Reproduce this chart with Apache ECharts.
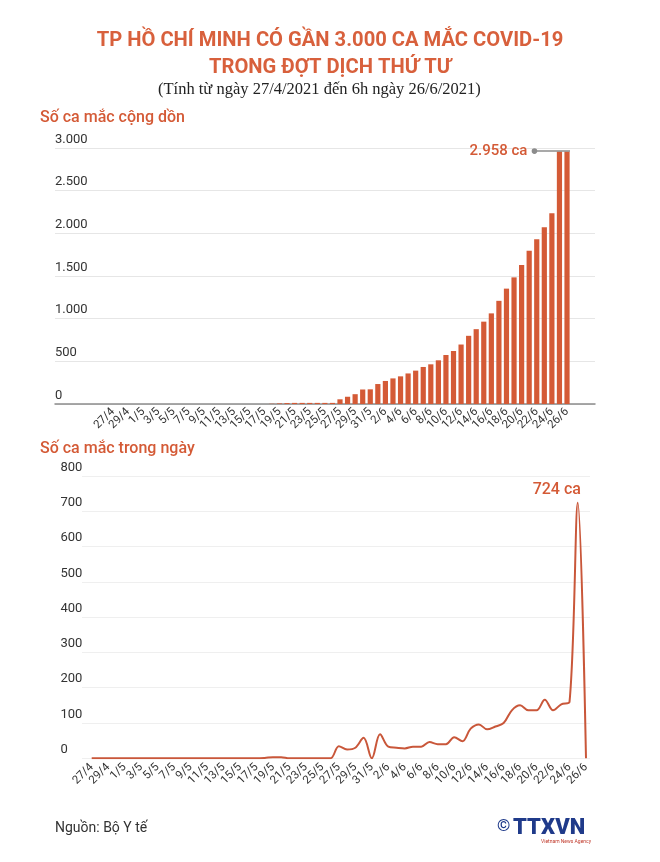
<!DOCTYPE html>
<html><head><meta charset="utf-8">
<script src="https://cdn.jsdelivr.net/npm/echarts@6/dist/echarts.min.js"></script>
<style>html,body{margin:0;padding:0;background:#fff}#c{width:660px;height:862px}</style>
</head><body><div id="c"></div>
<script>
const categories = ['27/4','28/4','29/4','30/4',
 '1/5','2/5','3/5','4/5','5/5','6/5','7/5','8/5','9/5','10/5','11/5','12/5','13/5','14/5','15/5','16/5',
 '17/5','18/5','19/5','20/5','21/5','22/5','23/5','24/5','25/5','26/5','27/5','28/5','29/5','30/5','31/5',
 '1/6','2/6','3/6','4/6','5/6','6/6','7/6','8/6','9/6','10/6','11/6','12/6','13/6','14/6','15/6','16/6',
 '17/6','18/6','19/6','20/6','21/6','22/6','23/6','24/6','25/6','26/6'];
const cumulative = [0,0,0,0, 0,0,0,0,0,0,0,0,0,0,0,0,0,0,0,0, 0,3,7,11,13,13,13,13,13,13,55,85,115,170,172,
 234,270,300,324,358,391,434,465,512,574,621,697,799,877,965,1062, 1209,1352,1484,1629,1797,1930,2070,2234,2958,2958];
const daily = [0,0,0,0, 0,0,0,0,0,0,0,0,0,0,0,0,0,0,0,0, 0,1,3,3,0,0,0,0,0,0,34,25,30,58,0,
 68,33,30,28,33,33,46,40,40,60,48,84,96,82,90,100, 136,150,136,136,166,136,153,160,724,0];
const cumTicks = {min: 0, max: 3000, interval: 500};
const dailyTicks = {min: 0, max: 800, interval: 100};
const titleLines = ['TP HỒ CHÍ MINH CÓ GẦN 3.000 CA MẮC COVID-19', 'TRONG ĐỢT DỊCH THỨ TƯ'];
const subtitle = '(Tính từ ngày 27/4/2021 đến 6h ngày 26/6/2021)';
const cumLabel = '2.958 ca';
const peakLabel = '724 ca';

const ORANGE = '#d45a36';
const TITLE = '#d8603c';
const fmtDot = v => String(v).replace(/\B(?=(\d{3})+(?!\d))/g, '.');

const chart = echarts.init(document.getElementById('c'), null, {renderer: 'canvas'});
const xLabel = {interval: 0, rotate: 45, fontSize: 11.5, color: '#333', fontFamily: 'Roboto', margin: 6,
  showMinLabel: true, showMaxLabel: true, hideOverlap: false,
  formatter: (v, i) => (i % 2 === 0 ? v : '')};
const peakIdx = daily.indexOf(Math.max(...daily));

const option = {
  backgroundColor: '#fff',
  animation: false,
  grid: [
    {left: 55, right: 65, top: 148, bottom: 458},
    {left: 109.2, right: 89.2, top: 148, bottom: 458},
    {left: 82, right: 70, top: 476, bottom: 103.7},
    {left: 91.7, right: 74, top: 476, bottom: 103.7}
  ],
  xAxis: [
    {gridIndex: 0, type: 'value', min: 0, max: 1, axisLine: {show: true, onZero: false, lineStyle: {color: '#8c8c8c', width: 1.5}},
     axisLabel: {show: false}, axisTick: {show: false}, splitLine: {show: false}},
    {gridIndex: 1, type: 'category', data: categories, axisLine: {show: false}, axisTick: {show: false}, axisLabel: xLabel},
    {gridIndex: 2, type: 'value', min: 0, max: 1, show: false},
    {gridIndex: 3, type: 'category', data: categories, boundaryGap: false, axisLine: {show: false}, axisTick: {show: false},
     axisLabel: Object.assign({}, xLabel, {margin: 7})}
  ],
  yAxis: [
    {gridIndex: 0, type: 'value', min: cumTicks.min, max: cumTicks.max, interval: cumTicks.interval,
     axisLine: {show: false}, axisTick: {show: false},
     splitLine: {lineStyle: {color: '#e6e6e6', width: 1}},
     axisLabel: {inside: true, margin: 0, verticalAlign: 'bottom', padding: [0, 0, 2, 0], fontSize: 13, color: '#333',
       fontFamily: 'Roboto', formatter: v => fmtDot(v)}},
    {gridIndex: 1, type: 'value', min: cumTicks.min, max: cumTicks.max, show: false},
    {gridIndex: 2, type: 'value', min: dailyTicks.min, max: dailyTicks.max, interval: dailyTicks.interval,
     axisLine: {show: false}, axisTick: {show: false},
     splitLine: {lineStyle: {color: '#efefef', width: 1}},
     axisLabel: {margin: 21.5, align: 'left', verticalAlign: 'bottom', padding: [0, 0, 2, 0], fontSize: 13, color: '#333', fontFamily: 'Roboto'}},
    {gridIndex: 3, type: 'value', min: dailyTicks.min, max: dailyTicks.max, show: false}
  ],
  series: [
    {type: 'bar', xAxisIndex: 1, yAxisIndex: 1, data: cumulative, barWidth: 5.2, itemStyle: {color: ORANGE}},
    {type: 'line', xAxisIndex: 3, yAxisIndex: 3, data: daily,
     smooth: 0.35, symbol: 'none', lineStyle: {color: '#c9573a', width: 2},
     markPoint: {
       symbol: 'circle', symbolSize: 1, itemStyle: {color: 'rgba(0,0,0,0)'},
       data: [{coord: [peakIdx, daily[peakIdx]], value: daily[peakIdx]}],
       label: {show: true, position: 'top', distance: 4, formatter: () => peakLabel, offset: [-21, 0], color: ORANGE,
         fontSize: 16, fontWeight: 500, fontFamily: 'Roboto'}
     }}
  ],
  graphic: [
    {type: 'text', left: 'center', top: 31, style: {text: titleLines[0], font: 'bold 20.2px Roboto', fill: TITLE}},
    {type: 'text', left: 'center', top: 58, style: {text: titleLines[1], font: 'bold 20.2px Roboto', fill: TITLE}},
    {type: 'text', left: 158, top: 81, style: {text: subtitle, font: '16.5px "Liberation Serif","DejaVu Serif",serif', fill: '#222'}},
    {type: 'text', left: 40, top: 110, style: {text: 'Số ca mắc cộng dồn', font: '500 16px Roboto', fill: ORANGE}},
    {type: 'text', left: 40, top: 441, style: {text: 'Số ca mắc trong ngày', font: '500 16px Roboto', fill: ORANGE}},
    {type: 'text', left: 55, top: 821, style: {text: 'Nguồn: Bộ Y tế', font: '14px Roboto', fill: '#333'}},
    {type: 'text', left: 497, top: 818, style: {text: '©', font: 'bold 17px Roboto', fill: '#1f3a8a'}},
    {type: 'text', left: 513, top: 817, style: {text: 'TTXVN', font: '900 22px Roboto', fill: '#1f3a8a'}},
    {type: 'text', left: 541, top: 839, style: {text: 'Vietnam News Agency', font: '5px Roboto', fill: '#c0392b'}}
  ]
};
chart.setOption(option);

const lastIdx = cumulative.length - 1;
const topIdx = cumulative.indexOf(Math.max(...cumulative));
const p1 = chart.convertToPixel({xAxisIndex: 1, yAxisIndex: 1}, [topIdx, cumulative[topIdx]]);
const p2 = chart.convertToPixel({xAxisIndex: 1, yAxisIndex: 1}, [lastIdx, cumulative[lastIdx]]);
const y0 = p1[1] - 0.5;
const dotX = p1[0] - 25;
chart.setOption({graphic: option.graphic.concat([
  {type: 'line', shape: {x1: dotX, y1: y0, x2: p2[0] + 3, y2: y0}, style: {stroke: '#8c8c8c', lineWidth: 1.5}, z: 10},
  {type: 'circle', shape: {cx: dotX, cy: y0, r: 2.8}, style: {fill: '#8c8c8c'}, z: 10},
  {type: 'text', x: dotX - 7, y: y0, style: {text: cumLabel, font: '500 15px Roboto', fill: ORANGE, align: 'right', verticalAlign: 'middle'}, z: 10}
])});
</script></body></html>
